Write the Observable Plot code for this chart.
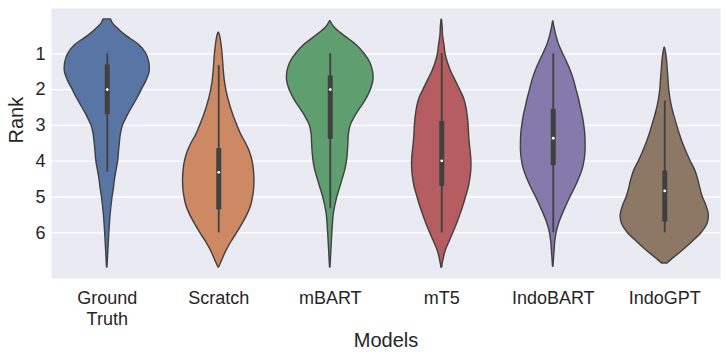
<!DOCTYPE html>
<html>
<head>
<meta charset="utf-8">
<script src="https://cdn.jsdelivr.net/npm/d3@7"></script>
<script src="https://cdn.jsdelivr.net/npm/@observablehq/plot@0.6"></script>
<style>
  html, body { margin: 0; padding: 0; background: white; }
</style>
</head>
<body>
<div id="chart"></div>
<script>
// Categories and colours
const models = ["Ground\nTruth", "Scratch", "mBART", "mT5", "IndoBART", "IndoGPT"];
const colors = ["#5875A4", "#CC8963", "#5F9E6E", "#B55D60", "#857AAB", "#8D7866"];
const yTicks = [1, 2, 3, 4, 5, 6];

// Violin profiles: [rank, half-width as fraction of category band]
const groundTruth = [[0.04,0.034],[0.15,0.05],[0.25,0.08],[0.5,0.17],[0.75,0.285],[1,0.35],[1.25,0.377],[1.5,0.38],[1.75,0.353],[2,0.311],[2.25,0.27],[2.5,0.224],[2.75,0.18],[3,0.142],[3.25,0.122],[3.5,0.113],[3.75,0.105],[4,0.098],[4.25,0.084],[4.5,0.07],[4.75,0.06],[5,0.048],[5.5,0.03],[6,0.019],[6.5,0.01],[6.97,0.002]];
const scratch = [[0.41,0.002],[0.5,0.012],[0.75,0.025],[1,0.034],[1.25,0.04],[1.5,0.046],[1.75,0.054],[2,0.067],[2.25,0.085],[2.5,0.108],[2.75,0.135],[3,0.166],[3.25,0.2],[3.5,0.244],[3.75,0.28],[4,0.303],[4.25,0.315],[4.5,0.32],[4.75,0.318],[5,0.308],[5.25,0.29],[5.5,0.257],[5.75,0.214],[6,0.166],[6.25,0.115],[6.5,0.07],[6.75,0.034],[6.97,0.003]];
const mbart = [[0.09,0.003],[0.25,0.034],[0.5,0.127],[0.75,0.232],[1,0.306],[1.25,0.359],[1.5,0.384],[1.75,0.387],[2,0.366],[2.25,0.327],[2.5,0.276],[2.75,0.224],[3,0.184],[3.25,0.167],[3.5,0.163],[3.75,0.158],[4,0.15],[4.25,0.135],[4.5,0.112],[4.75,0.088],[5,0.064],[5.25,0.045],[5.5,0.031],[6,0.019],[6.5,0.01],[6.97,0.002]];
const mt5 = [[0.05,0.002],[0.25,0.008],[0.5,0.012],[0.75,0.024],[1,0.034],[1.25,0.055],[1.5,0.085],[1.75,0.124],[2,0.163],[2.25,0.2],[2.5,0.221],[2.75,0.233],[3,0.241],[3.25,0.245],[3.5,0.251],[3.75,0.26],[4,0.266],[4.25,0.265],[4.5,0.256],[4.75,0.241],[5,0.218],[5.25,0.194],[5.5,0.167],[5.75,0.138],[6,0.105],[6.25,0.07],[6.5,0.036],[6.75,0.016],[6.97,0.003]];
const indobart = [[0.1,0.002],[0.25,0.01],[0.5,0.028],[0.75,0.052],[1,0.088],[1.25,0.126],[1.5,0.16],[1.75,0.187],[2,0.208],[2.25,0.229],[2.5,0.247],[2.75,0.265],[3,0.278],[3.25,0.287],[3.5,0.29],[3.75,0.289],[4,0.28],[4.25,0.262],[4.5,0.232],[4.75,0.196],[5,0.155],[5.25,0.118],[5.5,0.082],[5.75,0.052],[6,0.03],[6.25,0.018],[6.5,0.012],[6.95,0.002]];
const indogpt = [[0.83,0.002],[1,0.013],[1.25,0.022],[1.5,0.028],[1.75,0.034],[2,0.04],[2.25,0.051],[2.5,0.066],[2.75,0.087],[3,0.111],[3.25,0.135],[3.5,0.163],[3.75,0.196],[4,0.232],[4.25,0.272],[4.5,0.299],[4.75,0.318],[5,0.341],[5.25,0.374],[5.5,0.395],[5.75,0.384],[6,0.332],[6.25,0.251],[6.5,0.161],[6.75,0.063],[6.86,0.025]];

// Inner box statistics
const q1 = [1.31, 3.65, 1.62, 2.89, 2.55, 4.28];
const median = [2.0, 4.31, 2.0, 3.99, 3.36, 4.83];
const q3 = [2.70, 5.36, 3.39, 4.70, 4.12, 5.70];
const whiskerLo = [1, 1.33, 1, 1, 1, 2.32];
const whiskerHi = [4.31, 6, 5.33, 6, 6, 6];

const profiles = [groundTruth, scratch, mbart, mt5, indobart, indogpt];
const violinRows = profiles.flatMap((p, i) =>
  p.map(([rank, w]) => ({model: models[i], center: i + 0.5, rank, w})));
const boxRows = models.map((m, i) => ({
  model: m, center: i + 0.5, q1: q1[i], median: median[i], q3: q3[i],
  lo: whiskerLo[i], hi: whiskerHi[i]
}));
const xTicks = models.map((m, i) => i + 0.5);
const outline = "#404040";

const chart = Plot.plot({
  width: 727,
  height: 357,
  marginLeft: 51,
  marginRight: 7,
  marginTop: 8,
  marginBottom: 79,
  style: {fontFamily: "'Liberation Sans', Arial, sans-serif", fontSize: "18px", color: "#262626", background: "white"},
  x: {domain: [0, 6], axis: null},
  y: {domain: [-0.265, 7.277], reverse: true, axis: null},
  color: {domain: models, range: colors},
  marks: [
    Plot.frame({fill: "#EAEAF2", stroke: null}),
    Plot.gridY(yTicks, {stroke: "white", strokeOpacity: 1, strokeWidth: 1.3}),
    Plot.axisY(yTicks, {tickSize: 0, tickPadding: 6, fontSize: 18, label: null}),
    Plot.axisX(xTicks, {tickSize: 0, tickPadding: 10, fontSize: 18, lineHeight: 1.2,
      tickFormat: d => models[Math.round(d - 0.5)], label: null}),
    Plot.areaX(violinRows, {
      y: "rank", x1: d => d.center - d.w, x2: d => d.center + d.w,
      z: "model", fill: "model", stroke: outline, strokeWidth: 1.4, curve: "catmull-rom"
    }),
    Plot.ruleX(boxRows, {x: "center", y1: "lo", y2: "hi", stroke: outline, strokeWidth: 1.8}),
    Plot.ruleX(boxRows, {x: "center", y1: "q1", y2: "q3", stroke: outline, strokeWidth: 5}),
    Plot.dot(boxRows, {x: "center", y: "median", r: 1.4, fill: "white", stroke: null}),
    Plot.text(["Rank"], {text: d => d, frameAnchor: "left", dx: -35, rotate: -90, fontSize: 20, lineAnchor: "middle", fill: "#262626"}),
    Plot.text(["Models"], {text: d => d, frameAnchor: "bottom", dy: 54, fontSize: 20, lineAnchor: "top", fill: "#262626"})
  ]
});
document.getElementById("chart").appendChild(chart);
</script>
</body>
</html>
